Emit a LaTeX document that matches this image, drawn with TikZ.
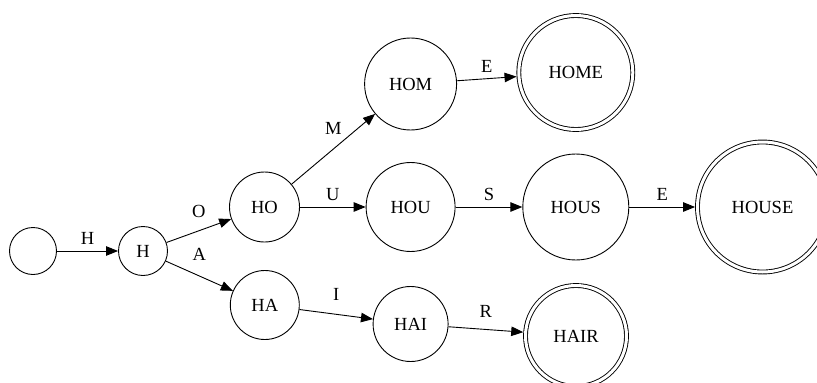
\documentclass[tikz,border=0pt]{standalone}
\usepackage{fontspec}
\setmainfont{Liberation Serif}
\usetikzlibrary{arrows.meta}

\tikzset{
  trienode/.style={circle, draw, line width=0.9pt, inner sep=0pt, font=\fontsize{18.5}{20}\selectfont},
  finalnode/.style={trienode, double, double distance=3pt, outer sep=2.4pt},
  link/.style={line width=0.9pt, -{Triangle[length=12pt,width=9.5pt]}},
  lbl/.style={above=5pt, inner sep=1pt, font=\fontsize{18.5}{20}\selectfont}
}

\begin{document}
\begin{tikzpicture}[x=1pt, y=-1pt]
  \useasboundingbox (0,0) rectangle (817,383);

  % Root and first letters
  \node[trienode, minimum size=47pt] (root) at (33,251) {};
  \node[trienode, minimum size=49pt] (H) at (143,251) {H};
  \node[trienode, minimum size=70pt] (HO) at (264.5,207) {HO};
  \node[trienode, minimum size=69pt] (HA) at (264.8,305) {HA};

  % Third column
  \node[trienode, minimum size=92pt] (HOM) at (410.6,84) {HOM};
  \node[trienode, minimum size=89pt] (HOU) at (410.6,207) {HOU};
  \node[trienode, minimum size=75pt] (HAI) at (410.6,324) {HAI};

  % Fourth column and words
  \node[finalnode, minimum size=114pt] (HOME) at (575.8,72.5) {HOME};
  \node[trienode, minimum size=106pt] (HOUS) at (575.8,207) {HOUS};
  \node[finalnode, minimum size=101pt] (HAIR) at (576,336) {HAIR};
  \node[finalnode, minimum size=130pt] (HOUSE) at (762.5,207) {HOUSE};

  % Transitions
  \draw[link] (root) -- node[lbl] {H} (H);
  \draw[link] (H) -- node[lbl, above=7pt] {O} (HO);
  \draw[link] (H) -- node[lbl, above=9pt] {A} (HA);
  \draw[link] (HO) -- node[lbl, above=8pt] {M} (HOM);
  \draw[link] (HO) -- node[lbl] {U} (HOU);
  \draw[link] (HA) -- node[lbl, above=7pt] {I} (HAI);
  \draw[link] (HOM) -- node[lbl] {E} (HOME);
  \draw[link] (HOU) -- node[lbl] {S} (HOUS);
  \draw[link] (HAI) -- node[lbl, above=6pt] {R} (HAIR);
  \draw[link] (HOUS) -- node[lbl] {E} (HOUSE);
\end{tikzpicture}
\end{document}
